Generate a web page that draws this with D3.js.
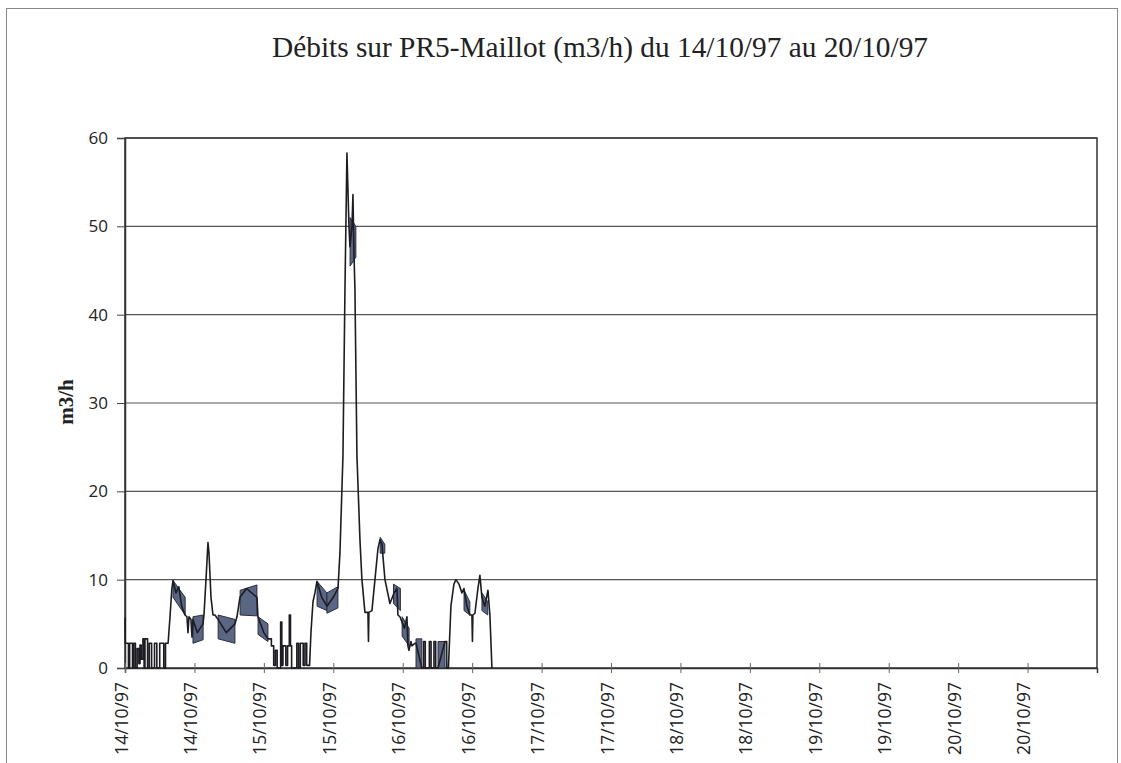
<!DOCTYPE html>
<html>
<head>
<meta charset="utf-8">
<script src="https://cdn.jsdelivr.net/npm/d3@7/dist/d3.min.js"></script>
<style>
  body { margin: 0; background: #fff; }
  svg { display: block; }
</style>
</head>
<body>
<div id="chart"></div>
<script>
// hours since 14/10/97 00:00 and flow (m3/h)
var hours = [0, 0.05, 0.6, 0.6, 0.8, 0.8, 1.3, 1.3, 1.5, 1.5, 1.8, 1.8, 2.1, 2.1, 2.4, 2.4, 2.6, 2.6, 2.8, 2.8,
  3.1, 3.1, 3.3, 3.3, 3.45, 3.45, 3.9, 3.9, 4.2, 4.2, 4.6, 4.6, 5.1, 5.1, 5.5, 5.5, 6.0, 6.0, 6.7, 6.7, 7.0, 7.0,
  7.45, 7.8, 8.1, 8.3, 8.8, 9.3, 9.8, 10.37, 10.71, 10.89, 11.06, 11.40, 11.58, 11.75, 12.5, 13.48, 13.65, 14.00,
  14.34, 14.52, 14.86, 15.21, 15.55, 16.07, 17.5, 19.01, 19.35, 19.87, 21, 22.81, 22.98, 24, 24.71,
  25.3, 25.3, 25.7, 25.7, 26.0, 26.0, 26.3, 26.3, 26.9, 26.9, 27.1, 27.1, 27.3, 27.3, 27.8, 27.8, 28.1, 28.1,
  28.4, 28.4, 28.6, 28.6, 28.8, 28.8, 29.7, 29.7, 30.0, 30.0, 30.3, 30.3, 30.8, 30.8, 31.1, 31.1, 31.4, 31.4,
  31.9, 32.14, 32.49, 32.83, 33.18, 34, 34.91, 36, 36.81, 37.15, 37.67, 38.02, 38.36, 38.71, 38.88, 39.23,
  39.40, 39.57, 39.74, 40.09, 40.61, 40.95, 41.47, 41.99, 42.08, 42.16, 42.68, 43.20, 43.72, 44.06, 44.41,
  44.93, 45.79, 46.5, 47.00, 47.17, 47.52, 48.3, 48.73, 48.90, 49.08, 49.42, 49.59, 50.11, 50.3, 51.3,
  51.6, 51.6, 51.9, 51.9, 52.6, 52.6, 52.9, 52.9, 53.4, 53.4, 53.7, 53.7, 54.1, 55.3, 55.6, 55.6, 55.9,
  56.33, 56.85, 57.20, 57.72, 58.23, 58.58, 59.1, 59.62, 59.96, 60.05, 60.13, 60.48, 61.00, 61.34, 61.69,
  62.2, 62.73, 63.07, 63.42];
var flow = [5.7, 2.8, 2.8, 0, 0, 2.8, 2.8, 0, 0, 2.8, 2.8, 0, 0, 2.2, 2.2, 0.5, 0.5, 2.6, 2.6, 1.0,
  1.0, 3.3, 3.3, 0, 0, 3.3, 3.3, 0, 0, 2.8, 2.8, 0, 0, 2.8, 2.8, 0, 0, 2.8, 2.8, 0, 0, 2.8,
  2.8, 6, 9, 9.9, 8.5, 9.2, 7, 6, 5.8, 4, 5.8, 5.5, 3.5, 5.5, 4, 5, 6, 10,
  14.2, 13, 8, 6, 6, 5.5, 4, 5, 5.8, 8, 9, 8, 5.8, 4, 3.3,
  3.3, 2.5, 2.5, 0.3, 0.3, 2, 2, 0, 0, 5.2, 5.2, 0.3, 0.3, 2.5, 2.5, 0.3, 0.3, 2.5,
  2.5, 6, 6, 2.5, 2.5, 0, 0, 2.8, 2.8, 0, 0, 2.8, 2.8, 0.3, 0.3, 2.8, 2.8, 0.3,
  0.3, 4, 7.5, 8.5, 9.8, 8, 7, 8, 9, 13, 24, 43, 58.3, 50, 47.7, 50,
  53.6, 47, 43, 24, 14.5, 10, 6.3, 6.3, 3, 6.3, 6.5, 10, 13.5, 14.5, 14,
  10, 7.3, 8.5, 9, 6, 5.8, 4.5, 5.8, 2.5, 2, 3, 2.5, 2.8, 2.8, 0,
  0, 3, 3, 0, 0, 3, 3, 0, 0, 3, 3, 0, 0, 3, 3, 0, 0,
  7, 9.5, 10, 9.5, 8.5, 9, 7, 6, 6, 3, 6, 6.2, 9, 10.5, 8,
  7, 8.8, 6, 0];

// stretches where the signal flickers fast between two levels
var bandStart = [8.3, 11.75, 16.1, 19.9, 23.0, 33.2, 34.9, 38.9, 44.1, 46.4, 47.9, 50.3, 54.1, 58.6, 61.7];
var bandEnd   = [10.4, 13.5, 19.0, 22.8, 24.7, 34.9, 36.8, 39.9, 44.9, 47.6, 49.1, 51.3, 55.3, 59.6, 62.7];
var lowStart  = [8.0, 2.8, 3.3, 6.0, 3.8, 7.0, 6.2, 45.5, 13.0, 7.3, 3.6, 0, 0, 6.5, 6.5];
var lowEnd    = [6.0, 3.2, 2.8, 5.9, 3.0, 6.5, 6.8, 46.5, 13.0, 6.5, 2.5, 0, 0, 6.0, 6.0];
var highStart = [9.9, 5.8, 6.0, 8.8, 5.8, 9.8, 8.5, 51.0, 14.8, 9.5, 5.8, 3.3, 3.0, 8.8, 8.5];
var highEnd   = [8.0, 6.0, 5.5, 9.4, 5.0, 8.5, 9.2, 50.0, 14.0, 9.0, 4.5, 3.3, 3.0, 7.5, 7.5];

var tickHours = [0, 12, 24, 36, 48, 60, 72, 84, 96, 108, 120, 132, 144, 156];
var tickLabels = ["14/10/97", "14/10/97", "15/10/97", "15/10/97", "16/10/97", "16/10/97", "17/10/97",
  "17/10/97", "18/10/97", "18/10/97", "19/10/97", "19/10/97", "20/10/97", "20/10/97"];
var yTicks = [0, 10, 20, 30, 40, 50, 60];

var W = 1121, H = 763;
var margin = {top: 138, right: 24, bottom: 95, left: 125},
  width = W - margin.left - margin.right,
  height = H - margin.top - margin.bottom;

var svg = d3.select("#chart").append("svg")
  .attr("width", W)
  .attr("height", H);

// outer frame of the sheet
svg.append("rect")
  .attr("x", 6.5).attr("y", 8.5)
  .attr("width", 1111).attr("height", 780)
  .attr("fill", "none")
  .attr("stroke", "#8a8a8a")
  .attr("stroke-width", 1);

svg.append("text")
  .attr("x", 600).attr("y", 57)
  .attr("text-anchor", "middle")
  .attr("textLength", 656)
  .attr("lengthAdjust", "spacingAndGlyphs")
  .style("font-family", "'Liberation Serif', 'Times New Roman', serif")
  .style("font-size", "30px")
  .style("fill", "#222")
  .text("Débits sur  PR5-Maillot (m3/h)  du 14/10/97 au 20/10/97");

var g = svg.append("g")
  .attr("transform", "translate(" + margin.left + "," + margin.top + ")");

var xx = d3.scaleLinear().domain([0, 168]).range([0, width]);
var yy = d3.scaleLinear().domain([0, 60]).range([height, 0]);

// gridlines
g.selectAll(".grid").data(yTicks.slice(1))
  .enter().append("line")
  .attr("x1", 0).attr("x2", width)
  .attr("y1", function(d) { return yy(d); })
  .attr("y2", function(d) { return yy(d); })
  .attr("stroke", "#555")
  .attr("stroke-width", 1.2);

// plot frame
g.append("rect")
  .attr("width", width).attr("height", height)
  .attr("fill", "none")
  .attr("stroke", "#333")
  .attr("stroke-width", 1.5);

// y axis
var yAxis = g.append("g")
  .call(d3.axisLeft(yy).tickValues(yTicks).tickSize(8).tickPadding(9));
yAxis.select(".domain").attr("stroke", "#333").attr("stroke-width", 1.5);
yAxis.selectAll(".tick line").attr("stroke", "#444");
yAxis.selectAll(".tick text")
  .style("font-family", "'Open Sans', 'DejaVu Sans', sans-serif")
  .style("font-size", "17px")
  .style("fill", "#222");

// x axis
var xAxis = g.append("g")
  .attr("transform", "translate(0," + height + ")")
  .call(d3.axisBottom(xx).tickValues(tickHours)
    .tickFormat(function(d, i) { return tickLabels[i]; }).tickSize(5));
xAxis.select(".domain").attr("stroke", "#333").attr("stroke-width", 1.5);
xAxis.selectAll(".tick line").attr("y1", -5).attr("stroke", "#666");
xAxis.selectAll(".tick text")
  .attr("transform", "rotate(-90)")
  .attr("x", -14).attr("y", -4).attr("dy", "0.35em")
  .style("text-anchor", "end")
  .style("font-family", "'Open Sans', 'DejaVu Sans', sans-serif")
  .style("font-size", "17.5px")
  .style("fill", "#222");

// y axis label
g.append("text")
  .attr("transform", "rotate(-90)")
  .attr("x", -264)
  .attr("y", -52)
  .style("text-anchor", "middle")
  .style("font-family", "'Liberation Serif', 'Times New Roman', serif")
  .style("font-weight", "bold")
  .style("font-size", "21px")
  .style("fill", "#222")
  .text("m3/h");

// flicker bands as trapezoids
var bandArea = d3.area()
  .x(function(d) { return xx(d.h); })
  .y0(function(d) { return yy(d.lo); })
  .y1(function(d) { return yy(d.hi); });
var bands = bandStart.map(function(s, i) {
  return [{h: s, lo: lowStart[i], hi: highStart[i]}, {h: bandEnd[i], lo: lowEnd[i], hi: highEnd[i]}];
});
g.selectAll(".band").data(bands)
  .enter().append("path")
  .attr("d", bandArea)
  .attr("fill", "#5a6684")
  .attr("stroke", "#2b2f3d")
  .attr("stroke-width", 1);

var pts = hours.map(function(h, i) { return {h: h, v: flow[i]}; });
g.append("path")
  .datum(pts)
  .attr("fill", "none")
  .attr("stroke", "#1c1c22")
  .attr("stroke-width", 1.6)
  .attr("stroke-linejoin", "round")
  .attr("d", d3.line()
    .x(function(d) { return xx(d.h); })
    .y(function(d) { return yy(d.v); }));
</script>
</body>
</html>
